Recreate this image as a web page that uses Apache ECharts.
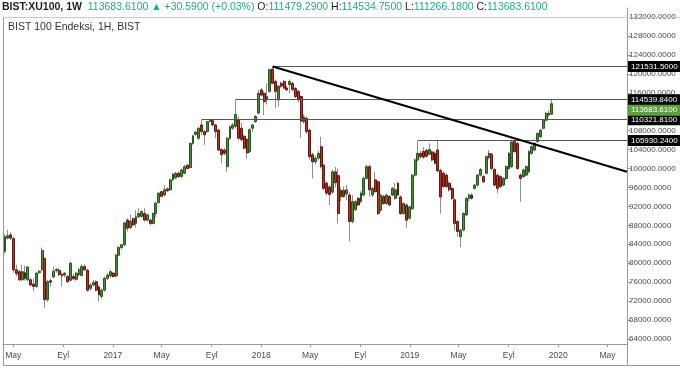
<!DOCTYPE html>
<html><head><meta charset="utf-8">
<script src="https://cdn.jsdelivr.net/npm/echarts@6/dist/echarts.min.js"></script>
<style>html,body{margin:0;padding:0;background:#fff}#c{width:680px;height:368px}</style>
</head><body><div id="c"></div>
<script>
// Weekly candles, first week starting Monday 2016-04-11
const firstWeek = [2016, 3, 11];
const open = [
82500,85300,86000,85200,78600,78200,76500,78000,76500,76500,
75600,75100,78000,78600,81000,72300,76300,77100,78400,78500,
77600,77500,77200,76400,77200,76600,77600,77400,79300,78500,
74700,75400,76100,75000,73000,74300,76800,77300,77900,77300,
81700,83300,83900,89100,87500,89400,88400,89800,89900,90500,
89100,89100,88400,90500,92800,95100,94400,95700,95500,97600,
98000,99000,98300,99000,100700,100200,105300,107200,106400,109200,
107800,107800,110000,110100,109200,108100,104000,103900,100400,106400,
108500,108900,110300,108500,106800,106100,103600,108500,109900,111700,
116600,115900,114500,116300,121000,118400,114500,118000,118400,117000,
117700,118000,116900,116300,115200,109900,110600,108100,102900,101400,
102200,104600,100700,96900,96100,95000,99300,98500,94000,95400,
94600,94400,88800,91300,93700,93000,94400,97900,100400,94400,
97600,97200,91200,94100,92600,94100,94400,93700,96900,94000,
90500,92300,89500,91500,98600,101800,103200,103600,103800,103000,
103500,103200,103900,99600,99000,98600,96900,95800,93400,88800,
85600,87000,90200,93700,94400,95800,96500,98600,98300,99000,
102300,103000,99800,98600,98300,96500,97900,100000,100400,105800,
105300,98600,98300,98600,99300,103200,103900,105700,106700,108500,
110200,111300,111479.29];
const close = [
85600,85800,85300,78600,77800,76500,78200,76800,79200,75400,
75100,77900,78300,82700,72300,76100,76000,78300,78700,77600,
77300,77900,76100,80000,76700,77900,78600,79300,78600,74300,
75400,75900,74300,73300,74300,76800,77500,78200,77200,81700,
83300,83900,88500,87400,88900,88100,89800,90500,90900,89100,
90200,88400,90500,92700,94800,94100,95500,95300,97600,98800,
99000,98300,99700,100400,100000,105300,106900,107700,108500,107800,
107100,109900,110150,109200,107800,103900,102900,103200,106400,108800,
109200,111400,106400,106100,104300,103300,108200,109200,111000,115900,
115500,114100,115200,120900,118000,116300,117400,117400,117000,116600,
118400,116700,115200,114500,110000,110900,107800,102500,101400,102200,
103200,100400,95800,94800,94500,99300,97000,90500,95400,94100,
95500,88800,93000,93000,92300,94800,97900,100400,95500,95800,
95100,90500,94400,92600,94400,92300,95800,95500,94400,90500,
92600,89100,91900,98600,101800,103200,102500,102400,102600,104000,
101800,101100,99500,94000,96200,96200,95500,93700,88400,86700,
87000,90500,93700,94400,93700,96500,98600,99800,97200,102500,
103200,100000,96500,95800,96200,97900,100400,103200,105600,103600,
100000,97900,99700,100400,103600,104600,105300,107400,108100,110200,
111650,111650,113683.61];
const low = [
82000,85000,84900,78000,77200,76200,76300,76300,76200,75200,
74100,74800,77700,78400,70500,71800,75000,76800,78000,77300,
75100,77000,75800,76100,76400,76300,77300,77200,78300,74000,
74200,75100,74000,71900,72500,74000,76400,77000,77000,77000,
81500,82900,83600,86700,87300,87800,87500,89500,89600,88800,
88800,88000,88200,89800,92600,93900,94100,95000,95300,97400,
97700,98000,98100,98800,99800,100000,105000,106900,106000,107100,
105000,107500,109800,108900,106400,103700,101100,102800,99300,106000,
108200,108500,106000,105700,104000,102200,103300,107800,109600,111400,
115200,111300,113500,116000,117800,112800,113100,117000,116700,116300,
115900,116300,114900,114000,106400,109500,107300,101900,97900,100800,
101700,100000,95400,94300,92300,94700,96000,88400,93000,93800,
93300,84550,88400,91000,92000,92700,94100,97700,94100,94000,
94900,90200,90900,92300,92300,92000,94100,93400,94100,90200,
90200,87500,89200,91200,98300,101500,102000,102000,102300,102800,
101500,100800,99200,90500,95900,95800,95100,93300,87000,85600,
83400,86700,89900,93000,93400,95500,96200,98300,96900,98700,
101900,99600,96200,94800,95900,96200,97600,99700,100100,103300,
99700,93000,98000,98300,99000,102900,103600,105400,106400,108200,
109900,110900,111266.18];
const high = [
86200,87000,86500,85600,79700,78600,79700,79500,79400,77000,
76800,78200,78600,83300,81200,76500,76800,79300,79000,79000,
78000,78200,77500,80300,77800,78200,79000,79800,79800,78800,
75800,76500,76400,75300,74700,77200,77900,78600,78200,82000,
83600,84100,88800,89500,90200,89600,91200,91600,91200,91600,
90400,89400,90700,93000,95100,95300,96500,96000,97900,99100,
99300,99400,100000,100800,101000,105500,107100,107900,108800,110321.81,
108200,110000,110250,110300,109500,108400,104300,104300,106600,109100,
109600,114539.84,111000,109600,107200,106400,108500,109500,111300,116600,
117000,116300,118000,121000,121531.5,118800,117700,118400,118700,117400,
118800,118300,117200,116600,115400,111400,111000,108400,103300,102700,
103700,106700,101000,97300,96500,99800,100300,100000,96000,96200,
96500,95000,94400,93300,94000,95200,98300,100800,100800,96100,
99300,97500,94700,94400,94700,94400,96100,96900,97200,94300,
92900,92600,92200,98900,102200,105930.24,103800,104500,104200,105300,
103800,103600,105900,100000,99400,99000,97300,96200,93700,89100,
87300,90800,94000,94800,94800,96800,98900,100100,98600,102800,
103900,103300,100200,98900,98600,98200,100700,103500,105900,106100,
105600,99000,100000,100700,103900,104900,105600,107700,108400,110500,
112000,112300,114534.75];

// Horizontal levels (value, index of the candle they start from)
const levelValues = [121531.5, 114539.84, 110321.81, 105930.24];
const levelStart = [94, 81, 69, 145];
const lastPrice = 113683.61;
// Trend line: from the 2018 peak to the right edge
const trendStart = [94, 121531.5];
const trendEndValue = 99300;

// Axis ticks
const yTicks = [64000,68000,72000,76000,80000,84000,88000,92000,96000,100000,104000,108000,112000,116000,120000,124000,128000,132000];
const xTickDates = [[2016,4,1],[2016,8,1],[2017,0,1],[2017,4,1],[2017,8,1],[2018,0,1],[2018,4,1],[2018,8,1],[2019,0,1],[2019,4,1],[2019,8,1],[2020,0,1],[2020,4,1]];
const xTickLabels = ['May','Eyl','2017','May','Eyl','2018','May','Eyl','2019','May','Eyl','2020','May'];

const headerParts = [
  ['b','BIST:XU100, 1W  '],['v','113683.6100 '],['v','\u25B2 +30.5900 (+0.03%) '],
  ['k','O:'],['v','111479.2900 '],['k','H:'],['v','114534.7500 '],['k','L:'],['v','111266.1800 '],['k','C:'],['v','113683.6100']
];
const legendText = 'BIST 100 Endeksi, 1H, BIST';

const weekTime = i => +new Date(firstWeek[0], firstWeek[1], firstWeek[2] + 7 * i);
const xMin = +new Date(2016, 3, 6);
const xMax = +new Date(2020, 5, 18);
const tickTimes = xTickDates.map(d => +new Date(d[0], d[1], d[2]));

const wickData = open.map((o, i) => [weekTime(i), o, close[i], low[i], high[i]]);
const bodyData = open.map((o, i) => [weekTime(i), o, close[i], Math.min(o, close[i]), Math.max(o, close[i])]);

const FONT = 'Liberation Sans, Arial, sans-serif';
const lblStyle = (bg) => ({show: true, position: 'end', distance: 1, formatter: p => (+p.value).toFixed(4),
  color: '#fff', backgroundColor: bg, padding: [2, 3, 1, 3], fontSize: 8, fontFamily: FONT});
const markData = levelValues.map((v, k) => [
  {coord: [weekTime(levelStart[k]), v], value: v, lineStyle: {color: '#555555', width: 1, type: 'solid'}, label: lblStyle('#000')},
  {coord: [xMax, v]}
]);
markData.push([
  {coord: [weekTime(trendStart[0]), trendStart[1]], lineStyle: {color: '#000', width: 2, type: 'solid'}, label: {show: false}},
  {coord: [xMax, trendEndValue]}
]);

const staticGraphic = [
  {id: 'hdr', type: 'text', left: 2, top: 2, z: 10, style: {
    text: headerParts.map(p => '{' + p[0] + '|' + p[1] + '}').join(''),
    rich: {
      b: {fontWeight: 'bold', fill: '#1e1e1e', fontSize: 10.5, fontFamily: FONT},
      k: {fill: '#1e1e1e', fontSize: 10.5, fontFamily: FONT},
      v: {fill: '#26a69a', fontSize: 10.5, fontFamily: FONT}
    }}},
  {id: 'leg', type: 'text', left: 8, top: 22, z: 10, style: {text: legendText, fill: '#333', fontSize: 10.5, fontFamily: FONT}},
  {id: 'f1', type: 'line', z: 10, shape: {x1: 3, y1: 17.5, x2: 680, y2: 17.5}, style: {stroke: '#c9c9c9', lineWidth: 1}},
  {id: 'f2', type: 'line', z: 10, shape: {x1: 3.5, y1: 17.5, x2: 3.5, y2: 366}, style: {stroke: '#9b9b9b', lineWidth: 1}},
  {id: 'f3', type: 'line', z: 10, shape: {x1: 627.5, y1: 344, x2: 627.5, y2: 366}, style: {stroke: '#9b9b9b', lineWidth: 1}},
  {id: 'f4', type: 'line', z: 10, shape: {x1: 3, y1: 365.5, x2: 680, y2: 365.5}, style: {stroke: '#9b9b9b', lineWidth: 1}}
];

const chart = echarts.init(document.getElementById('c'), null, {renderer: 'canvas'});
chart.setOption({
  animation: false,
  backgroundColor: '#ffffff',
  grid: {left: 3, right: 53, top: 8, bottom: 24, containLabel: false, outerBoundsMode: 'none'},
  xAxis: {
    type: 'value', min: xMin, max: xMax,
    axisLine: {show: true, lineStyle: {color: '#9b9b9b', width: 1}},
    axisTick: {show: true, customValues: tickTimes, length: 3, lineStyle: {color: '#9b9b9b'}},
    axisLabel: {show: true, customValues: tickTimes, color: '#4a4a4a', fontSize: 8.5, fontFamily: FONT, margin: 7,
      formatter: v => { const k = tickTimes.indexOf(v); return k >= 0 ? xTickLabels[k] : ''; }},
    splitLine: {show: false}
  },
  yAxis: {
    type: 'value', position: 'right', min: 62938, max: 133900,
    axisLine: {show: true, lineStyle: {color: '#9b9b9b', width: 1}},
    axisTick: {show: true, customValues: yTicks, length: 4, lineStyle: {color: '#9b9b9b'}},
    axisLabel: {show: true, customValues: yTicks, color: '#4a4a4a', fontSize: 8, fontFamily: FONT, margin: 2,
      formatter: v => v.toFixed(4)},
    splitLine: {show: false}
  },
  series: [
    {
      name: 'wick', type: 'candlestick', data: wickData, barWidth: 0.5,
      itemStyle: {color: '#8f8f8f', color0: '#8f8f8f', borderColor: '#8f8f8f', borderColor0: '#8f8f8f', borderWidth: 1},
      z: 2
    },
    {
      name: 'body', type: 'candlestick', data: bodyData, barWidth: 2.4,
      itemStyle: {color: '#4f8a3a', color0: '#b8322a', borderColor: '#2a5520', borderColor0: '#641812', borderWidth: 1},
      z: 3,
      markLine: {silent: true, symbol: ['none', 'none'], animation: false, data: markData}
    }
  ],
  graphic: staticGraphic
});

// Current-price tag on the price scale, nudged below the 114539.84 tag (as the reference does)
const axisX = chart.convertToPixel({xAxisIndex: 0}, xMax);
const priceY = chart.convertToPixel({yAxisIndex: 0}, lastPrice);
chart.setOption({graphic: staticGraphic.concat([{
  id: 'last', type: 'text', x: axisX + 1, y: priceY + 6.5, z: 20,
  style: {text: lastPrice.toFixed(4), fill: '#fff', backgroundColor: '#5aa13c', padding: [2, 3, 1, 3],
    fontSize: 8, fontFamily: FONT, verticalAlign: 'middle', align: 'left'}
}])});
</script></body></html>
